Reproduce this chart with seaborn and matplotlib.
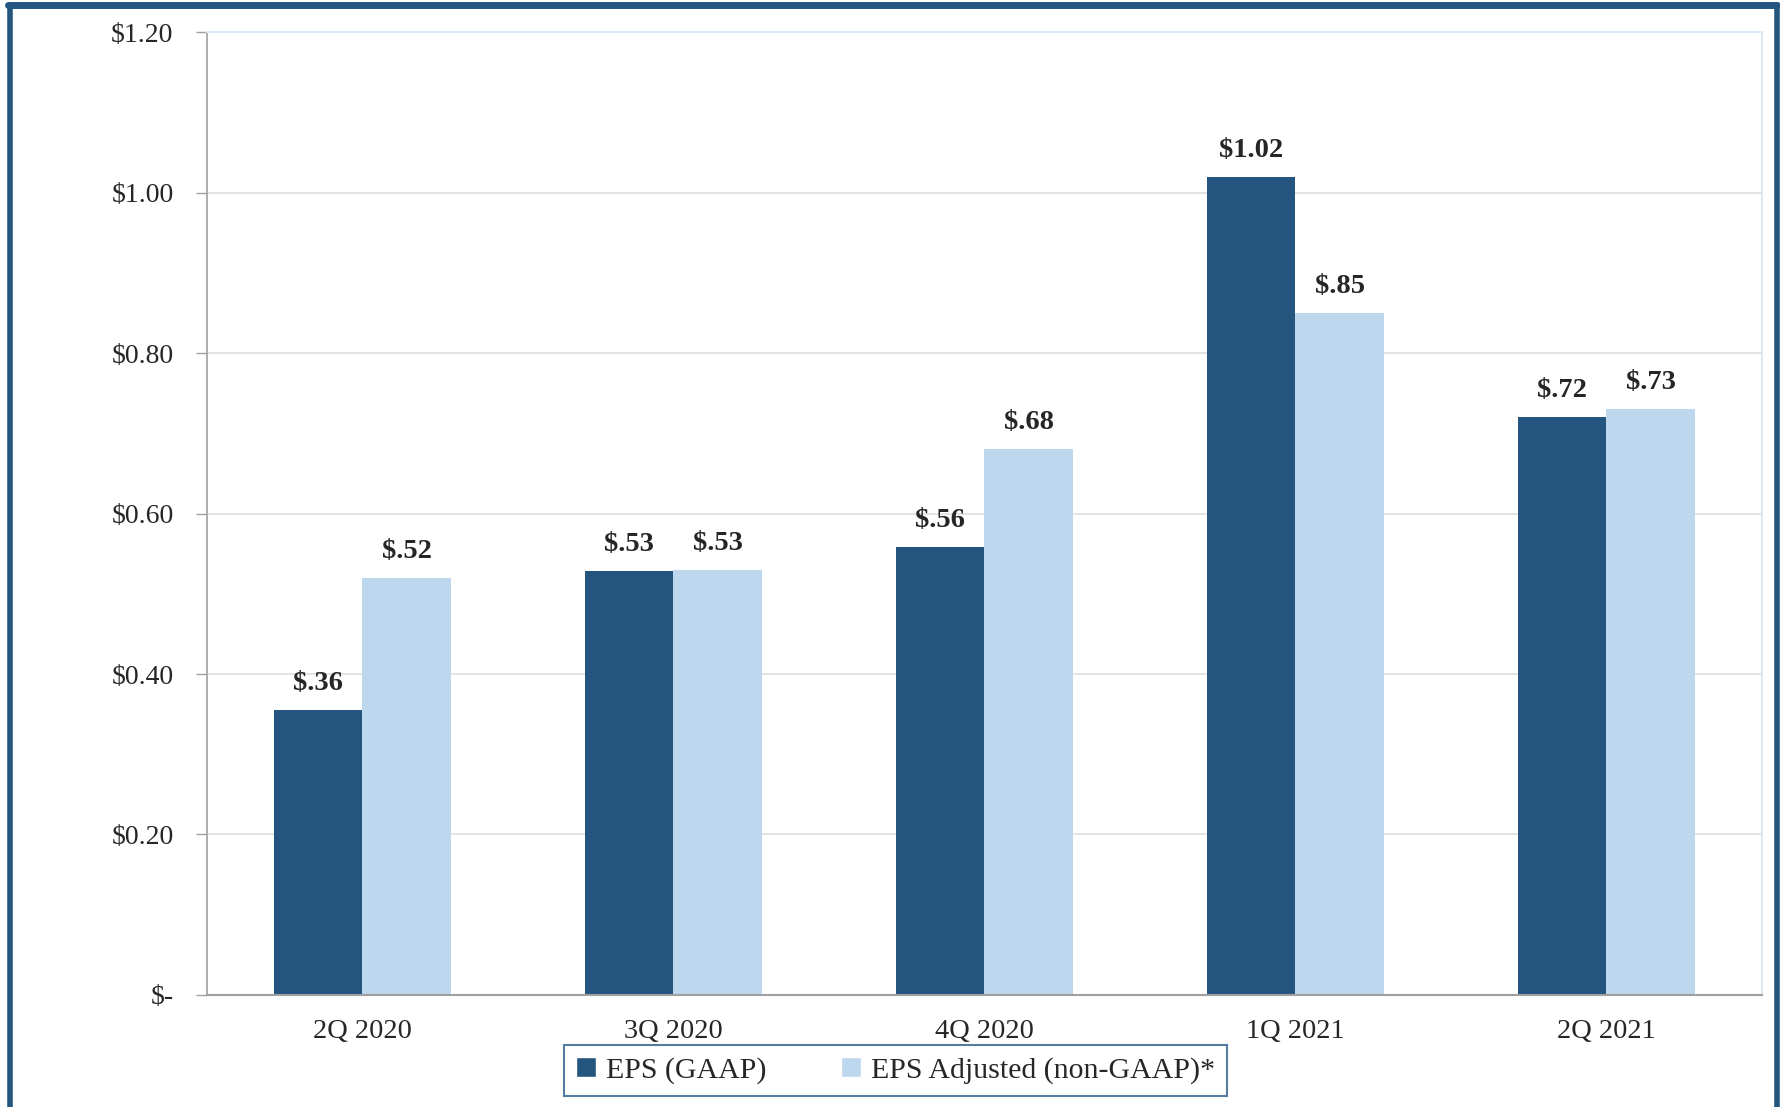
import pandas as pd
import numpy as np
import seaborn as sns
import matplotlib.pyplot as plt
from matplotlib.lines import Line2D
from matplotlib.patches import Patch

quarters = ['2Q 2020', '3Q 2020', '4Q 2020', '1Q 2021', '2Q 2021']
eps_gaap = [0.355, 0.528, 0.558, 1.02, 0.72]
eps_adjusted = [0.52, 0.53, 0.68, 0.85, 0.73]
gaap_labels = ['$.36', '$.53', '$.56', '$1.02', '$.72']
adjusted_labels = ['$.52', '$.53', '$.68', '$.85', '$.73']
series_names = ['EPS (GAAP)', 'EPS Adjusted (non-GAAP)*']
y_ticks = [0, 0.2, 0.4, 0.6, 0.8, 1.0, 1.2]
y_tick_labels = ['$-', '$0.20', '$0.40', '$0.60', '$0.80', '$1.00', '$1.20']

dark_blue = '#24557f'
light_blue = '#bdd7ee'

df = pd.DataFrame({
    'quarter': quarters * 2,
    'eps': eps_gaap + eps_adjusted,
    'series': [series_names[0]] * 5 + [series_names[1]] * 5,
})

sns.set_style('white')
plt.rcParams['font.family'] = ['Liberation Serif', 'DejaVu Serif']

fig = plt.figure(figsize=(17.81, 11.07), dpi=100)
ax = fig.add_axes([0.1162, 0.1012, 0.8731, 0.8698])

sns.barplot(data=df, x='quarter', y='eps', hue='series', palette=[dark_blue, light_blue],
            width=0.57, gap=0, ax=ax, legend=False, saturation=1, linewidth=0)

for container, labels in zip(ax.containers, [gaap_labels, adjusted_labels]):
    ax.bar_label(container, labels=labels, padding=10, fontsize=20.5, fontweight='bold')

ax.set_ylim(0, 1.2)
ax.set_xlim(-0.5, 4.5)
ax.set_yticks(y_ticks)
ax.set_yticklabels(y_tick_labels, fontsize=20)
ax.tick_params(axis='x', labelsize=20.5, length=0, pad=17)
ax.tick_params(axis='y', left=True, length=8, width=1, color='#a0a0a0', pad=16)
ax.yaxis.grid(True, color='#dedede', linewidth=1.2)
ax.set_axisbelow(True)
ax.set_xlabel('')
ax.set_ylabel('')

ax.spines['left'].set_color('#a0a0a0')
ax.spines['bottom'].set_color('#a0a0a0')
ax.spines['left'].set_linewidth(1.2)
ax.spines['bottom'].set_linewidth(1.5)
ax.spines['top'].set_color('#dce8f5')
ax.spines['right'].set_color('#dce8f5')
ax.spines['top'].set_linewidth(1.5)
ax.spines['right'].set_linewidth(1.5)

handles = [Patch(facecolor=dark_blue, label=series_names[0]),
           Patch(facecolor=light_blue, label=series_names[1])]
leg = fig.legend(handles=handles, loc='upper center', bbox_to_anchor=(0.503, 0.056), ncol=2,
                 fontsize=21.5, frameon=True, fancybox=False, edgecolor='#2a5a8a',
                 handlelength=0.65, handleheight=0.65, handletextpad=0.35, columnspacing=2.5,
                 borderpad=0.4, borderaxespad=0)
leg.get_frame().set_linewidth(1.5)

# outer frame
border = '#24557f'
fig.add_artist(Line2D([0.0056, 0.0056], [0, 0.9955], transform=fig.transFigure, color=border, linewidth=4))
fig.add_artist(Line2D([0.0045, 0.998], [0.9955, 0.9955], transform=fig.transFigure, color=border, linewidth=5))
fig.add_artist(Line2D([0.998, 0.998], [0, 0.9955], transform=fig.transFigure, color=border, linewidth=4))

plt.savefig('out.png', dpi=100)
